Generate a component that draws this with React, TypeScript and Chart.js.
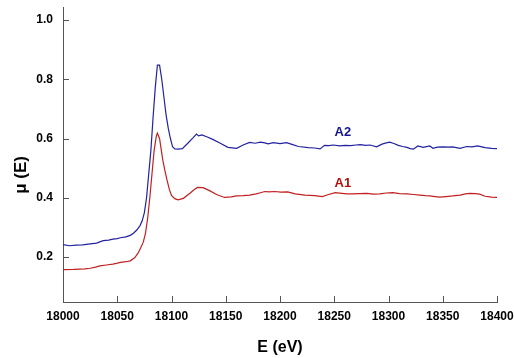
import React, { useEffect, useRef } from "react";
import { Chart, registerables } from "chart.js";

Chart.register(...registerables);

// A2 (upper, blue) spectrum
const energyA2 = [
  18000, 18006, 18012, 18018, 18025, 18031, 18037, 18042, 18046, 18050, 18053, 18058, 18062, 18065, 18068,
  18071, 18073, 18075, 18077, 18079, 18081, 18083, 18085, 18087, 18089, 18091, 18093, 18095, 18097, 18099,
  18101, 18103, 18106, 18110, 18115, 18120, 18123, 18125, 18128, 18133, 18138, 18145, 18152, 18160, 18166,
  18172, 18177, 18182, 18186, 18189, 18194, 18200, 18206, 18211, 18217, 18226, 18232, 18237, 18241, 18245,
  18249, 18255, 18260, 18265, 18270, 18274, 18279, 18283, 18289, 18294, 18298, 18301, 18305, 18309, 18313,
  18317, 18320, 18323, 18327, 18332, 18338, 18341, 18345, 18350, 18355, 18359, 18366, 18372, 18377, 18382,
  18386, 18389, 18395, 18400,
];
const muA2 = [
  0.242, 0.238, 0.24, 0.241, 0.244, 0.247, 0.255, 0.257, 0.26, 0.262, 0.265, 0.268, 0.273, 0.28, 0.291,
  0.306, 0.322, 0.35, 0.4, 0.48, 0.56, 0.67, 0.77, 0.848, 0.848, 0.8, 0.74, 0.68, 0.635, 0.6,
  0.572, 0.565, 0.564, 0.566, 0.584, 0.603, 0.615, 0.609, 0.612, 0.605, 0.597, 0.584, 0.57, 0.567, 0.578,
  0.587, 0.584, 0.588, 0.585, 0.582, 0.586, 0.583, 0.586, 0.58, 0.573, 0.569, 0.568, 0.565, 0.577, 0.576,
  0.578, 0.575, 0.577, 0.576, 0.578, 0.579, 0.577, 0.578, 0.572, 0.581, 0.585, 0.588, 0.583, 0.577, 0.573,
  0.57, 0.566, 0.564, 0.575, 0.57, 0.575, 0.567, 0.571, 0.572, 0.571, 0.572, 0.567, 0.573, 0.572, 0.575,
  0.572, 0.569, 0.567, 0.566,
];

// A1 (lower, red) spectrum
const energyA1 = [
  18000, 18010, 18020, 18025, 18030, 18034, 18040, 18046, 18050, 18053, 18058, 18062, 18066, 18069, 18071,
  18074, 18076, 18078, 18080, 18082, 18084, 18086, 18087, 18089, 18090, 18092, 18094, 18096, 18098, 18100,
  18103, 18106, 18111, 18117, 18121, 18124, 18129, 18135, 18142, 18149, 18155, 18160, 18166, 18172, 18178,
  18182, 18186, 18190, 18195, 18201, 18207, 18214, 18223, 18232, 18239, 18244, 18251, 18257, 18262, 18267,
  18273, 18280, 18286, 18292, 18298, 18304, 18310, 18317, 18323, 18329, 18334, 18338, 18343, 18347, 18353,
  18359, 18366, 18371, 18375, 18380, 18384, 18389, 18395, 18400,
];
const muA1 = [
  0.157, 0.158, 0.16, 0.162, 0.166, 0.17, 0.173, 0.176, 0.179, 0.182, 0.184, 0.187, 0.197, 0.212, 0.226,
  0.25, 0.28, 0.33, 0.4, 0.48, 0.56, 0.608, 0.618, 0.6, 0.575, 0.527, 0.49, 0.458, 0.428, 0.408,
  0.397, 0.393, 0.398, 0.415, 0.428, 0.435, 0.434, 0.424, 0.41, 0.401, 0.403, 0.406, 0.407, 0.409, 0.413,
  0.417, 0.421, 0.42, 0.421, 0.419, 0.42, 0.413, 0.409, 0.407, 0.404, 0.41, 0.417, 0.415, 0.413, 0.413,
  0.414, 0.415, 0.412, 0.413, 0.416, 0.417, 0.414, 0.413, 0.411, 0.409, 0.407, 0.406, 0.404, 0.402, 0.404,
  0.406, 0.409, 0.413, 0.415, 0.414, 0.412, 0.405, 0.402, 0.401,
];

const xTickValues = [18000, 18050, 18100, 18150, 18200, 18250, 18300, 18350, 18400];
const yTickValues = [0.2, 0.4, 0.6, 0.8, 1.0];

const seriesNames = ["A2", "A1"];
const labelEnergy = [18258, 18258];
const labelMu = [0.622, 0.45];

const lineColors = ["#2222a0", "#c02020"];
const labelColors = ["#14148c", "#b40f0f"];

const FONT = "'Liberation Sans', Arial, sans-serif";

export default function App() {
  const ref = useRef<HTMLCanvasElement>(null);

  useEffect(() => {
    document.body.style.margin = "0";
    const canvas = ref.current;
    if (!canvas) return;

    const inwardTicks = {
      id: "inwardTicks",
      afterDatasetsDraw(chart: any) {
        const c = chart.ctx;
        const xs = chart.scales.x;
        const ys = chart.scales.y;
        const area = chart.chartArea;
        c.save();
        c.strokeStyle = "#555555";
        c.lineWidth = 1;
        c.beginPath();
        xTickValues.forEach((v) => {
          const px = Math.round(xs.getPixelForValue(v)) + 0.5;
          c.moveTo(px, area.bottom);
          c.lineTo(px, area.bottom - 6);
        });
        yTickValues.forEach((v) => {
          const py = Math.round(ys.getPixelForValue(v)) + 0.5;
          c.moveTo(area.left, py);
          c.lineTo(area.left + 6, py);
        });
        c.stroke();

        // series labels
        c.font = `bold 13px ${FONT}`;
        c.textAlign = "center";
        c.textBaseline = "middle";
        seriesNames.forEach((name, i) => {
          c.fillStyle = labelColors[i];
          c.fillText(name, xs.getPixelForValue(labelEnergy[i]), ys.getPixelForValue(labelMu[i]));
        });

        // y axis title
        c.translate(21, ys.getPixelForValue(0.477));
        c.rotate(-Math.PI / 2);
        c.fillStyle = "#000000";
        c.font = `bold 17px ${FONT}`;
        c.fillText("\u03bc (E)", 0, 0);
        c.restore();
      },
    };

    const chart = new Chart(canvas, {
      type: "line",
      data: {
        datasets: [
          {
            label: "A2",
            data: energyA2.map((e, i) => ({ x: e, y: muA2[i] })),
            borderColor: lineColors[0],
            borderWidth: 1.2,
            pointRadius: 0,
            tension: 0,
            fill: false,
          },
          {
            label: "A1",
            data: energyA1.map((e, i) => ({ x: e, y: muA1[i] })),
            borderColor: lineColors[1],
            borderWidth: 1.2,
            pointRadius: 0,
            tension: 0,
            fill: false,
          },
        ],
      },
      options: {
        responsive: false,
        animation: false,
        layout: { padding: { left: 0, right: 17, top: 7, bottom: 0 } },
        plugins: {
          legend: { display: false },
          tooltip: { enabled: false },
        },
        scales: {
          x: {
            type: "linear",
            min: 18000,
            max: 18400,
            afterBuildTicks: (s: any) => {
              s.ticks = xTickValues.map((v) => ({ value: v }));
            },
            afterFit: (s: any) => {
              s.height = 56;
              s.paddingLeft = 0;
              s.paddingRight = 0;
              s.paddingTop = 0;
              s.paddingBottom = 0;
            },
            grid: { display: false, drawTicks: false },
            border: { display: true, color: "#555555", width: 1 },
            ticks: {
              autoSkip: false,
              maxRotation: 0,
              padding: 7,
              color: "#000000",
              font: { family: FONT, size: 12, weight: "bold" },
              callback: (v: any) => String(v),
            },
            title: {
              display: true,
              text: "E (eV)",
              color: "#000000",
              font: { family: FONT, size: 16, weight: "bold" },
              padding: { top: 0, bottom: 1 },
            },
          },
          y: {
            type: "linear",
            min: 0.048,
            max: 1.044,
            afterBuildTicks: (s: any) => {
              s.ticks = yTickValues.map((v) => ({ value: v }));
            },
            afterFit: (s: any) => {
              s.width = 63;
              s.paddingLeft = 0;
              s.paddingRight = 0;
              s.paddingTop = 0;
              s.paddingBottom = 0;
            },
            grid: { display: false, drawTicks: false },
            border: { display: true, color: "#555555", width: 1 },
            ticks: {
              padding: 10,
              color: "#000000",
              font: { family: FONT, size: 12, weight: "bold" },
              callback: (v: any) => Number(v).toFixed(1),
            },
          },
        },
      },
      plugins: [inwardTicks],
    } as any);

    return () => chart.destroy();
  }, []);

  return (
    <canvas
      ref={ref}
      width={514}
      height={358}
      style={{ display: "block", width: 514, height: 358 }}
    />
  );
}
